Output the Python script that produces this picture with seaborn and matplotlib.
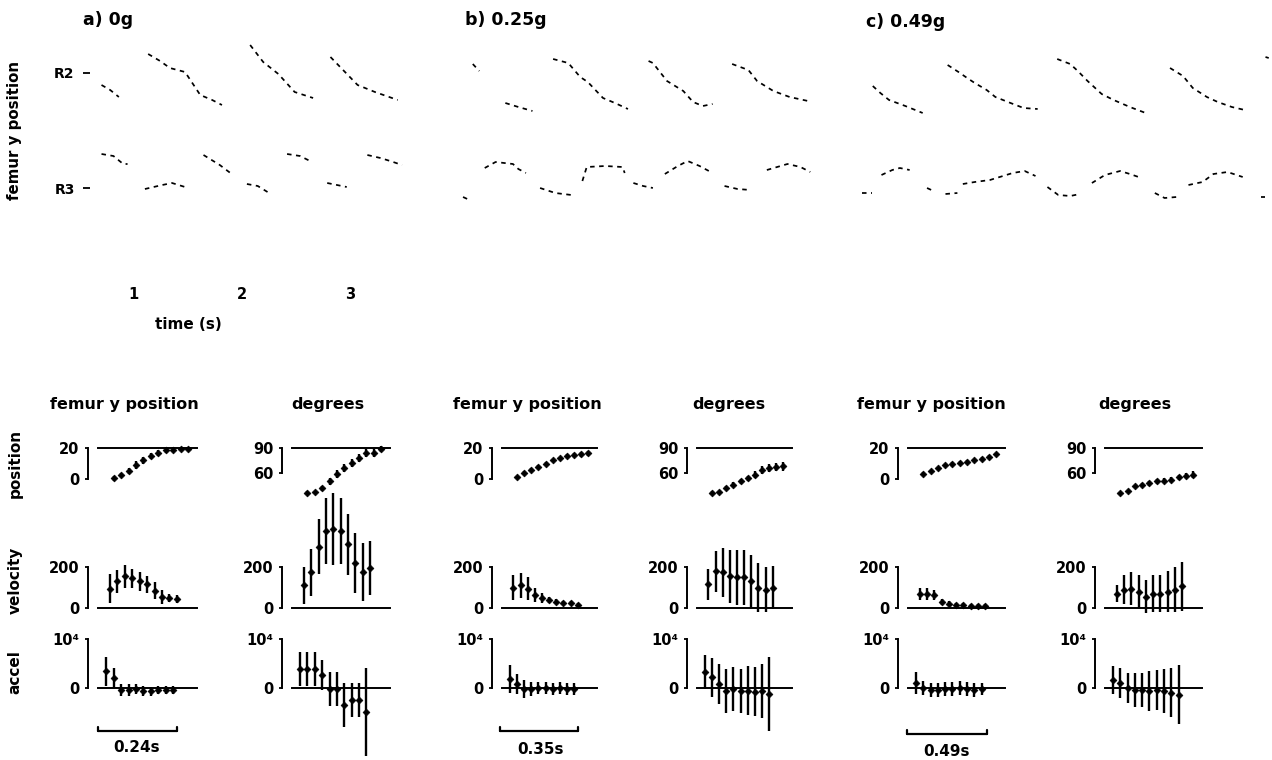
import numpy as np
import pandas as pd
import matplotlib
matplotlib.use('Agg')
import matplotlib.pyplot as plt
from matplotlib.lines import Line2D
import seaborn as sns

sns.set_style('white')
plt.rcParams['font.family'] = ['DejaVu Sans']
plt.rcParams['font.weight'] = 'bold'
for key in ['text.color', 'axes.labelcolor', 'xtick.color', 'ytick.color', 'axes.edgecolor']:
    plt.rcParams[key] = 'black'

W, H = 1272, 760

# ---- raw traces: time (s) and femur y offset, one list per visible stretch ----
a_r2_t = [[0.71, 0.79, 0.87], [1.14, 1.25, 1.34, 1.48, 1.62, 1.73, 1.82],
          [2.08, 2.20, 2.34, 2.49, 2.66], [2.82, 3.07, 3.23, 3.44]]
a_r2_y = [[-12, -17, -24], [19, 12, 5, 1, -22, -27, -32],
          [28, 11, -1, -19, -25], [16, -12, -19, -27]]
a_r3_t = [[0.71, 0.82, 0.91, 0.95], [1.11, 1.27, 1.36, 1.48], [1.65, 1.80, 1.91],
          [2.05, 2.15, 2.24], [2.42, 2.54, 2.65], [2.79, 2.88, 2.97], [3.16, 3.28, 3.37, 3.48]]
a_r3_y = [[34, 32, 24, 24], [-1, 3, 5, 1], [33, 23, 14],
          [4, 2, -4], [34, 32, 26], [5, 3, 1], [33, 30, 27, 23]]

b_r2_t = [[0.76, 0.82], [1.06, 1.18, 1.31], [1.50, 1.64, 1.75, 1.82, 1.96, 2.07, 2.19],
          [2.38, 2.42, 2.55, 2.70, 2.79, 2.88, 2.97], [3.15, 3.30, 3.38, 3.53, 3.68, 3.85]]
b_r2_y = [[9, 2], [-30, -34, -38], [14, 10, -4, -9, -25, -30, -36],
          [12, 10, -8, -18, -29, -33, -31], [9, 3, -8, -18, -24, -28]]
b_r3_t = [[0.67, 0.71], [0.87, 0.97, 1.13, 1.18, 1.25], [1.38, 1.52, 1.67],
          [1.77, 1.81, 1.98, 2.14, 2.16], [2.24, 2.33, 2.42], [2.53, 2.65, 2.74, 2.85, 2.97],
          [3.08, 3.20, 3.32], [3.47, 3.66, 3.78, 3.87]]
b_r3_y = [[-9, -11], [20, 26, 24, 19, 15], [0, -5, -7],
          [7, 21, 22, 21, 15], [5, 2, 0], [14, 22, 27, 22, 15],
          [2, -1, -2], [18, 24, 21, 16]]

c_r2_t = [[0.76, 0.83, 0.91, 1.06, 1.22], [1.45, 1.55, 1.63, 1.70, 1.81, 1.89, 2.03, 2.15, 2.28],
          [2.46, 2.58, 2.65, 2.74, 2.87, 2.98, 3.13, 3.30], [3.50, 3.62, 3.71, 3.84, 3.94, 4.07, 4.19],
          [4.38, 4.41]]
c_r2_y = [[-13, -20, -27, -33, -40], [8, 1, -5, -10, -17, -24, -30, -35, -36],
          [14, 9, 2, -8, -21, -27, -34, -41], [5, -3, -15, -24, -29, -34, -37],
          [16, 15]]
c_r3_t = [[0.66, 0.75], [0.84, 0.94, 1.01, 1.10], [1.26, 1.32], [1.43, 1.54],
          [1.59, 1.70, 1.84, 1.96, 2.05, 2.16, 2.26], [2.37, 2.47, 2.58, 2.67],
          [2.78, 2.90, 3.04, 3.13, 3.21], [3.36, 3.45, 3.56], [3.67, 3.80, 3.90, 4.03, 4.17],
          [4.34, 4.38]]
c_r3_y = [[-5, -5], [13, 18, 20, 18], [0, -3], [-6, -5],
          [4, 6, 8, 12, 15, 17, 12], [1, -7, -8, -6],
          [5, 13, 17, 14, 11], [-5, -10, -9], [3, 6, 14, 16, 11],
          [-9, -9]]

panel_titles = ['a) 0g', 'b) 0.25g', 'c) 0.49g']
time_ticks = [1, 2, 3]

# ---- cycle averages (mean, sd) at phase bins ----
bins_pos = [1, 2, 3, 4, 5, 6, 7, 8, 9, 10, 11]
bins_vel = [0.5, 1.5, 2.5, 3.5, 4.5, 5.5, 6.5, 7.5, 8.5, 9.5]
bins_acc = [0, 1, 2, 3, 4, 5, 6, 7, 8, 9]

a_fem_pos = [0.5, 2.5, 5, 9, 12, 15, 17, 18.5, 19, 19.5, 19.5]
a_fem_pos_sd = [1.5, 1.5, 2, 2.5, 2, 2, 2, 1.5, 1.5, 1, 1]
a_fem_vel = [95, 130, 155, 145, 130, 115, 85, 55, 50, 45]
a_fem_vel_sd = [70, 55, 55, 45, 45, 40, 40, 35, 20, 20]
a_fem_acc = [3400, 2000, -400, -400, -200, -600, -700, -400, -400, -400]
a_fem_acc_sd = [3000, 2000, 1200, 1200, 1000, 1000, 1000, 800, 800, 800]
a_deg_pos = [36, 37, 42, 50, 59, 66, 72, 78, 84, 84, 89]
a_deg_pos_sd = [2, 2, 3, 4, 5, 5, 5, 5, 5, 5, 4]
a_deg_vel = [110, 175, 300, 375, 385, 375, 310, 220, 175, 195]
a_deg_vel_sd = [90, 115, 135, 160, 175, 160, 150, 145, 140, 130]
a_deg_acc = [3900, 3900, 3900, 2650, -200, -200, -3500, -2400, -2400, -4900]
a_deg_acc_sd = [3500, 3500, 3500, 3000, 3500, 3500, 4500, 3500, 3500, 9000]

b_fem_pos = [1, 4, 6, 8, 10, 12, 13.5, 15, 15.5, 16, 16.5]
b_fem_pos_sd = [1, 1, 1, 1, 1, 1, 1, 1, 1.5, 1.5, 1.5]
b_fem_vel = [100, 110, 95, 65, 50, 40, 30, 25, 25, 15]
b_fem_vel_sd = [60, 60, 55, 35, 25, 15, 12, 10, 10, 10]
b_fem_acc = [1800, 800, -200, -200, 0, 0, -200, 0, -200, -200]
b_fem_acc_sd = [2800, 2000, 1800, 1400, 1200, 1200, 1200, 1200, 1200, 1200]
b_deg_pos = [36, 37, 42, 46, 50, 54, 58, 64, 66, 67, 68]
b_deg_pos_sd = [2, 2, 2, 3, 3, 3, 4, 5, 5, 5, 5]
b_deg_vel = [115, 180, 175, 155, 150, 150, 130, 100, 90, 100]
b_deg_vel_sd = [75, 100, 120, 130, 135, 135, 130, 120, 110, 105]
b_deg_acc = [3200, 2200, 800, -600, -200, -600, -600, -800, -600, -1200]
b_deg_acc_sd = [3500, 4000, 4000, 4500, 4500, 4500, 5000, 5000, 5500, 7500]

c_fem_pos = [3.5, 5, 7, 9, 10, 10.5, 11, 12, 13, 14.5, 16]
c_fem_pos_sd = [1, 1, 1, 1, 1, 1, 1, 1, 1, 1, 1]
c_fem_vel = [70, 70, 65, 30, 20, 15, 15, 10, 10, 10]
c_fem_vel_sd = [30, 30, 25, 15, 12, 10, 10, 10, 10, 10]
c_fem_acc = [1000, 0, -400, -400, -200, -200, 0, -200, -400, -200]
c_fem_acc_sd = [2200, 1500, 1400, 1400, 1400, 1400, 1400, 1400, 1400, 1200]
c_deg_pos = [36, 38, 44, 46, 48, 50, 51, 52, 55, 57, 58]
c_deg_pos_sd = [1, 1, 2, 2, 3, 3, 3, 3, 3, 3, 4]
c_deg_vel = [70, 90, 95, 80, 55, 70, 70, 80, 90, 105]
c_deg_vel_sd = [40, 70, 80, 80, 80, 90, 90, 100, 110, 120]
c_deg_acc = [1600, 1000, 0, -400, -400, -600, -400, -600, -1000, -1400]
c_deg_acc_sd = [2800, 3000, 3000, 3500, 3500, 4000, 4000, 4500, 5000, 6000]

scale_labels = ['0.24s', '0.35s', '0.49s']


def fbox(x0, y0, x1, y1):
    # pixel box (image coords) -> figure fraction
    return [x0 / W, 1 - y1 / H, (x1 - x0) / W, (y1 - y0) / H]


def ftext(x, y, s, **kw):
    kw.setdefault('ha', 'center')
    kw.setdefault('va', 'center')
    kw.setdefault('fontweight', 'bold')
    fig.text(x / W, 1 - y / H, s, **kw)


def traces_df(t_lists, y_lists, offset):
    rows = []
    for i, (ts, ys) in enumerate(zip(t_lists, y_lists)):
        for t, y in zip(ts, ys):
            rows.append({'t': t, 'y': y + offset, 'seg': i})
    return pd.DataFrame(rows)


fig = plt.figure(figsize=(W / 100, H / 100), dpi=100)

# ---------------- top: raw traces ----------------
top_boxes = [(90, 30, 410, 280), (450, 30, 830, 280), (850, 30, 1272, 280)]
top_xlims = [(0.604, 3.553), (0.55, 4.052), (0.55, 4.44)]
top_data = [(a_r2_t, a_r2_y, a_r3_t, a_r3_y),
            (b_r2_t, b_r2_y, b_r3_t, b_r3_y),
            (c_r2_t, c_r2_y, c_r3_t, c_r3_y)]
R2_OFF, R3_OFF = 115, 0

for k, (bx, xl, dat) in enumerate(zip(top_boxes, top_xlims, top_data)):
    ax = fig.add_axes(fbox(*bx))
    r2t, r2y, r3t, r3y = dat
    for tl, yl, off in [(r2t, r2y, R2_OFF), (r3t, r3y, R3_OFF)]:
        df = traces_df(tl, yl, off)
        sns.lineplot(data=df, x='t', y='y', units='seg', estimator=None, sort=False,
                     color='black', lw=1.25, linestyle=(0, (2.6, 2.6)), ax=ax)
    ax.set_xlim(xl)
    ax.set_ylim(-92, 158)
    for s in ax.spines.values():
        s.set_visible(False)
    ax.set_xlabel('')
    ax.set_ylabel('')
    if k == 0:
        ax.set_yticks([R2_OFF, R3_OFF])
        ax.set_yticklabels(['R2', 'R3'])
        ax.tick_params(axis='y', left=True, length=5, width=1.3, pad=6, labelsize=10)
        ax.set_xticks(time_ticks)
        ax.set_xticklabels([str(v) for v in time_ticks])
        ax.tick_params(axis='x', bottom=True, length=0, pad=5, labelsize=10.5)
    else:
        ax.set_xticks([])
        ax.set_yticks([])

ftext(83, 20, panel_titles[0], ha='left', fontsize=12.5)
ftext(465, 20, panel_titles[1], ha='left', fontsize=12.5)
ftext(866, 22, panel_titles[2], ha='left', fontsize=12.5)
ftext(15, 130, 'femur y position', rotation=90, fontsize=10.8)
ftext(188, 325, 'time (s)', fontsize=11)

# ---------------- bottom: cycle averages ----------------
col_x = [(98, 197), (292, 390), (502, 597), (697, 792), (908, 1005), (1105, 1202)]
col_head = ['femur y position', 'degrees'] * 3
col_head_x = [124, 328, 527, 729, 931, 1135]
pos_rows = {'fem': (448, 479), 'deg': (448, 473)}
vel_row = (567, 608)
acc_row = (639, 688)

groups = [
    [(a_fem_pos, a_fem_pos_sd), (a_fem_vel, a_fem_vel_sd), (a_fem_acc, a_fem_acc_sd)],
    [(a_deg_pos, a_deg_pos_sd), (a_deg_vel, a_deg_vel_sd), (a_deg_acc, a_deg_acc_sd)],
    [(b_fem_pos, b_fem_pos_sd), (b_fem_vel, b_fem_vel_sd), (b_fem_acc, b_fem_acc_sd)],
    [(b_deg_pos, b_deg_pos_sd), (b_deg_vel, b_deg_vel_sd), (b_deg_acc, b_deg_acc_sd)],
    [(c_fem_pos, c_fem_pos_sd), (c_fem_vel, c_fem_vel_sd), (c_fem_acc, c_fem_acc_sd)],
    [(c_deg_pos, c_deg_pos_sd), (c_deg_vel, c_deg_vel_sd), (c_deg_acc, c_deg_acc_sd)],
]


def small_panel(box, lim, labels, line_top, bins, vals, sds):
    ax = fig.add_axes(box)
    df = pd.DataFrame({'x': bins, 'y': vals, 'sd': sds})
    ax.vlines(df['x'], df['y'] - df['sd'], df['y'] + df['sd'], color='black', lw=1.7, clip_on=False)
    sns.scatterplot(data=df, x='x', y='y', marker='D', s=12, color='black', edgecolor='black',
                    linewidth=0.5, ax=ax, clip_on=False, legend=False, zorder=3)
    ax.set_xlim(-1.1, 12.2)
    ax.set_ylim(lim)
    ax.set_xlabel('')
    ax.set_ylabel('')
    ax.set_xticks([])
    ax.set_yticks(list(lim))
    ax.set_yticklabels(labels)
    ax.tick_params(axis='y', left=True, direction='out', length=2.5, width=1.3, pad=4, labelsize=10.5)
    ax.spines['right'].set_visible(False)
    ax.spines['top'].set_visible(line_top)
    ax.spines['bottom'].set_visible(not line_top)
    ax.spines['left'].set_position(('outward', 7))
    for s in ax.spines.values():
        s.set_linewidth(1.4)
        s.set_color('black')
    ax.patch.set_alpha(0)
    return ax


for i, (xr, g) in enumerate(zip(col_x, groups)):
    deg = (i % 2 == 1)
    x0, x1 = xr
    if deg:
        py = pos_rows['deg']
        small_panel(fbox(x0, py[0], x1, py[1]), (60, 90), ['60', '90'], True, bins_pos, *g[0])
    else:
        py = pos_rows['fem']
        small_panel(fbox(x0, py[0], x1, py[1]), (0, 20), ['0', '20'], True, bins_pos, *g[0])
    small_panel(fbox(x0, vel_row[0], x1, vel_row[1]), (0, 200), ['0', '200'], False, bins_vel, *g[1])
    small_panel(fbox(x0, acc_row[0], x1, acc_row[1]), (0, 10000), ['0', '10⁴'], False, bins_acc, *g[2])
    ftext(col_head_x[i], 404, col_head[i], fontsize=11.5)

ftext(15, 463, 'position', rotation=90, fontsize=11)
ftext(15, 580, 'velocity', rotation=90, fontsize=11)
ftext(15, 672, 'accel', rotation=90, fontsize=11)

# time scale bars
for (bx0, bx1, by, lx, ly), lab in zip([(98, 177, 731, 137, 748),
                                        (500, 578, 731, 540, 749),
                                        (907, 987, 734, 947, 752)], scale_labels):
    fig.add_artist(Line2D([bx0 / W, bx1 / W], [1 - by / H, 1 - by / H],
                          transform=fig.transFigure, color='black', lw=1.6))
    for xe in (bx0, bx1):
        fig.add_artist(Line2D([xe / W, xe / W], [1 - by / H, 1 - (by - 4) / H],
                              transform=fig.transFigure, color='black', lw=1.6))
    ftext(lx, ly, lab, fontsize=11)

fig.savefig('out.png', dpi=100)
